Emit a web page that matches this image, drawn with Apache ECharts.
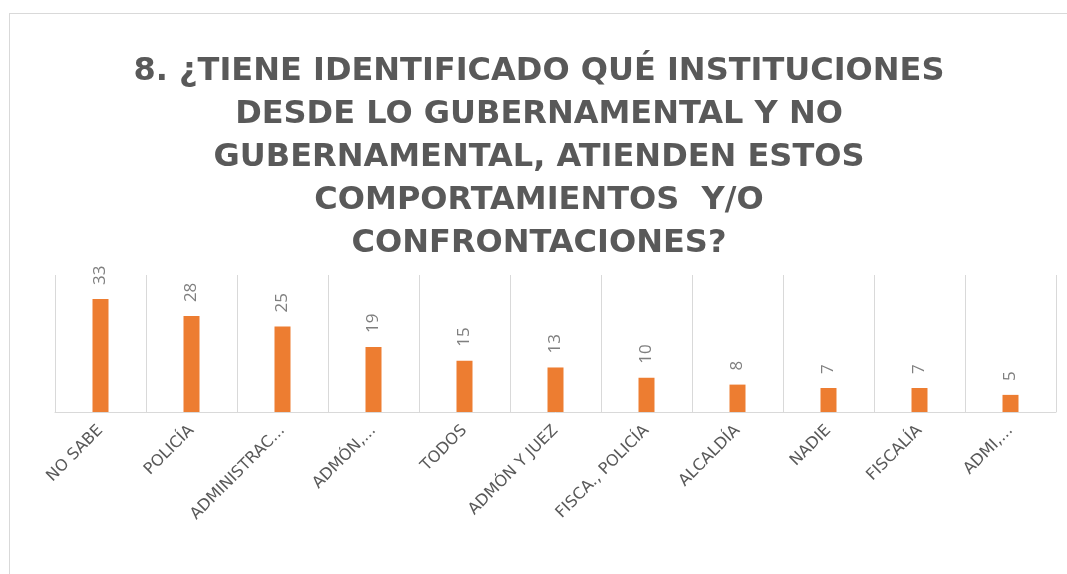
<!DOCTYPE html>
<html>
<head>
<meta charset="utf-8">
<script src="https://cdn.jsdelivr.net/npm/echarts@6/dist/echarts.min.js"></script>
<style>
  html, body { margin: 0; padding: 0; background: #fff; overflow: hidden; }
  #frame {
    position: absolute; left: 9px; top: 13px;
    width: 1070px; height: 570px;
    border: 1px solid #d9d9d9;
    background: #fff;
  }
  #chart { width: 1058px; height: 561px; }
</style>
</head>
<body>
<div id="frame"><div id="chart"></div></div>
<script>
// datos
const categorias = ['NO SABE', 'POLICÍA', 'ADMINISTRAC...', 'ADMÓN,...', 'TODOS', 'ADMÓN Y JUEZ',
  'FISCA., POLICÍA', 'ALCALDÍA', 'NADIE', 'FISCALÍA', 'ADMI,...']
const valores = [33, 28, 25, 19, 15, 13, 10, 8, 7, 7, 5]
const titulo = '8. ¿TIENE IDENTIFICADO QUÉ INSTITUCIONES\nDESDE LO GUBERNAMENTAL Y NO\nGUBERNAMENTAL, ATIENDEN ESTOS\nCOMPORTAMIENTOS  Y/O\nCONFRONTACIONES?'

const chart = echarts.init(document.getElementById('chart'))

const option = {
  animation: false,
  title: {
    text: titulo,
    left: 'center',
    top: 31,
    textStyle: {
      fontFamily: 'DejaVu Sans',
      fontWeight: 'bold',
      fontSize: 32,
      lineHeight: 43,
      color: '#595959'
    }
  },
  grid: {
    left: 45,
    right: 12,
    top: 261,
    bottom: 163
  },
  xAxis: {
    type: 'category',
    data: categorias,
    axisLine: { lineStyle: { color: '#d9d9d9', width: 1 } },
    axisTick: { show: false },
    splitLine: { show: true, lineStyle: { color: '#d9d9d9', width: 1 } },
    axisLabel: {
      rotate: 45,
      interval: 0,
      margin: 16,
      fontFamily: 'DejaVu Sans',
      fontSize: 16,
      color: '#595959'
    }
  },
  yAxis: {
    type: 'value',
    min: 0,
    max: 40,
    show: false,
    splitLine: { show: false }
  },
  series: [{
    type: 'bar',
    data: valores,
    barWidth: 16,
    itemStyle: { color: '#ED7D31' },
    label: {
      show: true,
      position: 'top',
      rotate: 90,
      align: 'left',
      verticalAlign: 'middle',
      distance: 14,
      fontFamily: 'Open Sans',
      fontSize: 17,
      color: '#7f7f7f'
    }
  }]
}

chart.setOption(option)
</script>
</body>
</html>
